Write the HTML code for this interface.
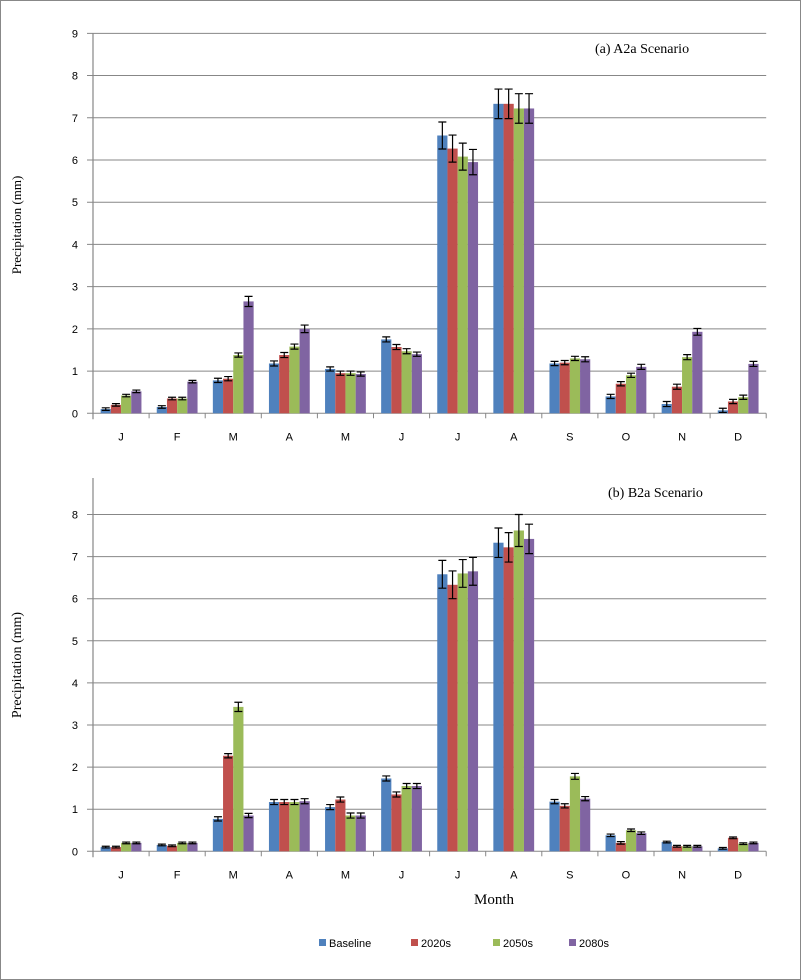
<!DOCTYPE html>
<html><head><meta charset="utf-8"><style>
html,body{margin:0;padding:0;background:#fff}
svg{display:block}
</style></head><body>
<svg id="chart" width="801" height="980" xmlns="http://www.w3.org/2000/svg" font-family="'Liberation Sans', sans-serif">
<rect x="0.5" y="0.5" width="800" height="979" fill="#fff" stroke="#888"/>
</svg>
<script>
const months = ["J","F","M","A","M","J","J","A","S","O","N","D"];
const seriesNames = ["Baseline","2020s","2050s","2080s"];
const colors = ["#4F81BD","#C0504D","#9BBB59","#8064A2"];
const a_baseline = [0.1,0.15,0.78,1.18,1.05,1.75,6.58,7.33,1.18,0.4,0.22,0.07];
const a_2020s = [0.2,0.35,0.82,1.38,0.95,1.57,6.27,7.33,1.2,0.7,0.63,0.28];
const a_2050s = [0.42,0.35,1.38,1.58,0.95,1.47,6.08,7.22,1.3,0.9,1.33,0.38];
const a_2080s = [0.52,0.75,2.65,2.0,0.93,1.4,5.95,7.22,1.28,1.1,1.93,1.17];
const a_err = [0.03,0.03,0.05,0.06,0.05,0.06,0.32,0.35,0.05,0.05,0.06,0.05];
const a_err2080 = [0.03,0.03,0.12,0.09,0.05,0.05,0.3,0.35,0.06,0.06,0.08,0.06];
const b_baseline = [0.1,0.15,0.77,1.17,1.05,1.73,6.58,7.33,1.18,0.38,0.22,0.07];
const b_2020s = [0.1,0.13,2.27,1.17,1.23,1.35,6.33,7.22,1.08,0.2,0.12,0.32];
const b_2050s = [0.2,0.2,3.43,1.17,0.85,1.55,6.6,7.62,1.78,0.5,0.12,0.18];
const b_2080s = [0.2,0.2,0.85,1.19,0.85,1.55,6.65,7.42,1.25,0.43,0.12,0.2];
const b_err = [0.02,0.02,0.05,0.06,0.06,0.06,0.33,0.35,0.05,0.03,0.02,0.02];
const b_errBig = [0.02,0.02,0.11,0.06,0.06,0.06,0.33,0.38,0.07,0.03,0.02,0.02];
const a_ticks = [0,1,2,3,4,5,6,7,8,9];
const b_ticks = [0,1,2,3,4,5,6,7,8];

const NS = "http://www.w3.org/2000/svg";
const svg = document.getElementById("chart");
function el(tag, attrs, parent){
  const e = document.createElementNS(NS, tag);
  for (const k in attrs) e.setAttribute(k, attrs[k]);
  (parent||svg).appendChild(e);
  return e;
}

function panel(cfg){
  const g = el("g", {});
  
  
  const x0 = 93, cw = 56.1, y0 = cfg.y0, u = cfg.unit;
  const xCat = i => x0 + i*cw;
  const yv = v => y0 - v*u;
  cfg.ticks.forEach(t => {
    const gl = el("line", {x1:x0-6, x2:x0+12*cw, y1:yv(t), y2:yv(t), stroke:"#878787", "stroke-width":1}, g);
    
    
    const tl = el("text", {x:78, y:yv(t)+4, "text-anchor":"end", "font-size":11, fill:"#000"}, g);
    tl.textContent = t;
    
    
  });
  const ax = el("line", {x1:x0, x2:x0, y1:cfg.top, y2:y0+6, stroke:"#878787", "stroke-width":1.2}, g);
  
  
  for (let i=0;i<=12;i++){
    const tk = el("line", {x1:xCat(i), x2:xCat(i), y1:y0, y2:y0+5, stroke:"#878787"}, g);
    
    
  }
  months.forEach((m,i) => {
    const t = el("text", {x:xCat(i)+cw/2, y:y0+27, "text-anchor":"middle", "font-size":11, fill:"#000"}, g);
    t.textContent = m;
    
    
  });
  const bw = 10.2, pad = (cw - 4*bw)/2;
  cfg.series.forEach((s, si) => {
    s.forEach((v,i) => {
      const bx = xCat(i) + pad + si*bw;
      const r = el("rect", {x:bx, y:yv(v), width:bw, height:v*u, fill:colors[si]}, g);
      
      
      const e = cfg.errs[si][i];
      const cx = bx + bw/2;
      const eb = el("path", {d:`M${cx},${yv(v+e)}V${yv(v-e)}M${cx-4},${yv(v+e)}H${cx+4}M${cx-4},${yv(v-e)}H${cx+4}`, stroke:"#000", "stroke-width":1.2, fill:"none"}, g);
      
      
    });
  });
  const ti = el("text", {x:cfg.titleX, y:cfg.titleY, "font-size":14, "font-family":"'Liberation Serif', serif", fill:"#000"}, g);
  ti.textContent = cfg.title;
  
  
  const yt = el("text", {x:0, y:0, transform:`translate(21,${cfg.ytY}) rotate(-90)`, "text-anchor":"middle", "font-size":cfg.ytSize, "font-family":"'Liberation Serif', serif", fill:"#000"}, g);
  yt.textContent = "Precipitation (mm)";
  
  
}

panel({name:"panel-a2a", y0:413.3, unit:42.22, top:33, ticks:a_ticks,
  series:[a_baseline,a_2020s,a_2050s,a_2080s], errs:[a_err,a_err,a_err,a_err2080],
  title:"(a) A2a Scenario", titleX:595, titleY:53, ytY:225, ytSize:13});
panel({name:"panel-b2a", y0:851.3, unit:42.1, top:478, ticks:b_ticks,
  series:[b_baseline,b_2020s,b_2050s,b_2080s], errs:[b_err,b_err,b_errBig,b_err],
  title:"(b) B2a Scenario", titleX:608, titleY:497, ytY:665, ytSize:14});

const mt = el("text", {x:494, y:904, "text-anchor":"middle", "font-size":15, "font-family":"'Liberation Serif', serif", fill:"#000"});
mt.textContent = "Month";



const legX = [319, 411, 493, 569];
seriesNames.forEach((n,i) => {
  const g = el("g", {});
  
  
  el("rect", {x:legX[i], y:939, width:7, height:7, fill:colors[i]}, g);
  const t = el("text", {x:legX[i]+10, y:947, "font-size":11, fill:"#000"}, g);
  t.textContent = n;
});
</script>
</body></html>
